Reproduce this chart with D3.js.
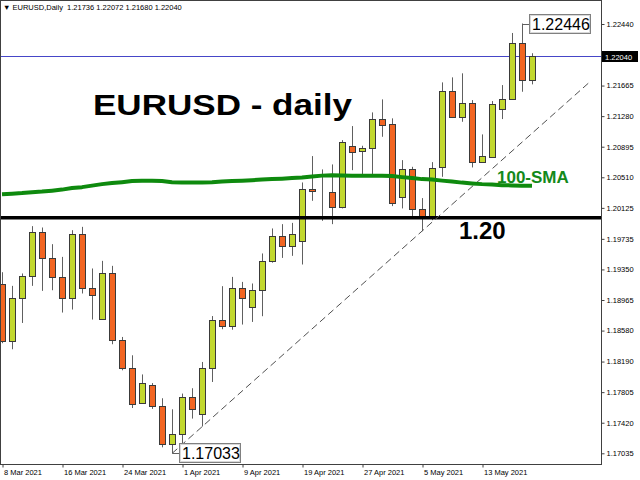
<!DOCTYPE html>
<html><head><meta charset="utf-8">
<script src="https://cdn.jsdelivr.net/npm/d3@7"></script>
<style>
html,body{margin:0;padding:0;background:#fff;}
svg{display:block;}
text{font-family:"Liberation Sans",Arial,sans-serif;}
</style></head>
<body>
<svg id="chart" width="640" height="480"></svg>
<script>
// ---- DATA ----
const dates = ["8 Mar 2021","9 Mar 2021","10 Mar 2021","11 Mar 2021","12 Mar 2021","15 Mar 2021","16 Mar 2021","17 Mar 2021","18 Mar 2021","19 Mar 2021",
"22 Mar 2021","23 Mar 2021","24 Mar 2021","25 Mar 2021","26 Mar 2021","29 Mar 2021","30 Mar 2021","31 Mar 2021","1 Apr 2021","2 Apr 2021",
"5 Apr 2021","6 Apr 2021","7 Apr 2021","8 Apr 2021","9 Apr 2021","12 Apr 2021","13 Apr 2021","14 Apr 2021","15 Apr 2021","16 Apr 2021",
"19 Apr 2021","20 Apr 2021","21 Apr 2021","22 Apr 2021","23 Apr 2021","26 Apr 2021","27 Apr 2021","28 Apr 2021","29 Apr 2021","30 Apr 2021",
"3 May 2021","4 May 2021","5 May 2021","6 May 2021","7 May 2021","10 May 2021","11 May 2021","12 May 2021","13 May 2021","14 May 2021",
"17 May 2021","18 May 2021","19 May 2021","20 May 2021"];
const open = [1.19164,1.18450,1.18984,1.19269,1.19815,1.19495,1.19256,1.18991,1.19790,1.19117,
1.18727,1.19311,1.18467,1.18109,1.17668,1.17889,1.17629,1.17157,1.17283,1.17744,
1.17535,1.18109,1.18719,1.18639,1.19110,1.18878,1.19088,1.19454,1.19769,1.19647,
1.19706,1.20361,1.20327,1.20327,1.20130,1.20907,1.20844,1.20874,1.21243,1.21176,
1.20264,1.20613,1.20109,1.20025,1.20642,1.21600,1.21264,1.21448,1.20705,1.20768,
1.21365,1.21491,1.22207,1.21736];
const high = [1.19315,1.19143,1.19299,1.19895,1.19878,1.19668,1.19508,1.19844,1.19886,1.19362,
1.19458,1.19395,1.18500,1.18269,1.18028,1.17919,1.17728,1.17589,1.17787,1.17854,
1.18185,1.18763,1.19139,1.19256,1.19193,1.19173,1.19551,1.19866,1.19920,1.19936,
1.20445,1.20777,1.20609,1.20672,1.20978,1.21155,1.20907,1.21327,1.21491,1.21252,
1.20726,1.20642,1.20248,1.20701,1.21705,1.21768,1.21819,1.21482,1.21050,1.21470,
1.21671,1.22327,1.22446,1.22072];
const low = [1.18421,1.18345,1.18676,1.19143,1.19080,1.19088,1.18807,1.18845,1.19047,1.18719,
1.18715,1.18408,1.18080,1.17605,1.17665,1.17594,1.17110,1.17033,1.17157,1.17472,
1.17372,1.17933,1.18597,1.18591,1.18656,1.18689,1.18761,1.19435,1.19495,1.19521,
1.19412,1.20214,1.19962,1.19920,1.20118,1.20600,1.20550,1.20537,1.21020,1.20147,
1.20118,1.20012,1.19832,1.19970,1.20516,1.21256,1.21209,1.20634,1.20697,1.20760,
1.21243,1.21485,1.21587,1.21680];
const close = [1.18446,1.18984,1.19269,1.19823,1.19500,1.19256,1.18991,1.19790,1.19117,1.19034,
1.19311,1.18467,1.18109,1.17661,1.17923,1.17629,1.17157,1.17283,1.17747,1.17589,
1.18109,1.18719,1.18639,1.19110,1.18991,1.19088,1.19454,1.19773,1.19643,1.19790,
1.20357,1.20336,1.20327,1.20130,1.20949,1.20831,1.20874,1.21239,1.21167,1.20185,
1.20613,1.20107,1.20025,1.20632,1.21600,1.21264,1.21448,1.20697,1.20781,1.21428,
1.21495,1.22207,1.21734,1.22040];
const sma100 = [1.20298,1.20304,1.20311,1.20323,1.20330,1.20342,1.20355,1.20374,1.20386,1.20405,
1.20424,1.20437,1.20449,1.20462,1.20468,1.20468,1.20462,1.20449,1.20443,1.20443,
1.20445,1.20449,1.20456,1.20462,1.20468,1.20474,1.20481,1.20487,1.20493,1.20500,
1.20506,1.20519,1.20531,1.20537,1.20534,1.20529,1.20529,1.20529,1.20529,1.20525,
1.20512,1.20500,1.20487,1.20481,1.20468,1.20456,1.20443,1.20433,1.20424,1.20418,
1.20411,1.20408,1.20405,1.20403];
const priceTicks = [1.22440,1.21665,1.21280,1.20895,1.20510,1.20125,1.19735,1.19350,1.18965,1.18580,1.18190,1.17805,1.17420,1.17035];
const dateTickIndex = [0,6,12,18,24,30,36,42,48];
const dateTickLabels = ["8 Mar 2021","16 Mar 2021","24 Mar 2021","1 Apr 2021","9 Apr 2021","19 Apr 2021","27 Apr 2021","5 May 2021","13 May 2021"];
const headerText = "\u25BC EURUSD,Daily  1.21736 1.22072 1.21680 1.22040";
const bidPrice = 1.22040;
const supportLevel = 1.20;
const trendIdx = [17, 42];
const trendPrice = [1.17033, 1.19832];
const trendEndIdx = 58.8;
const highMark = {i: 52, price: 1.22446, label: "1.22446"};
const lowMark = {i: 17, price: 1.17033, label: "1.17033"};

// ---- LAYOUT ----
const svg = d3.select("#chart");
const plotL = 1, plotR = 601, plotT = 1, plotB = 464;
const x = d3.scaleLinear().domain([0, 60]).range([2, 602]);
const y = d3.scaleLinear().domain([1.17035, 1.22440]).range([453.3, 24]);
const bull = "#c2d82e", bear = "#f26522", outline = "#3a3a3a", wickC = "#606060";

svg.append("defs").append("clipPath").attr("id","plotclip")
  .append("rect").attr("x",plotL).attr("y",plotT).attr("width",plotR-plotL).attr("height",plotB-plotT);

const plot = svg.append("g").attr("clip-path","url(#plotclip)");

// bid line (behind candles)
plot.append("line").attr("x1",plotL).attr("x2",plotR)
  .attr("y1",Math.round(y(bidPrice))+0.5).attr("y2",Math.round(y(bidPrice))+0.5)
  .attr("stroke","#4646c8").attr("stroke-width",1);

const candles = dates.map((d,i)=>({i, o:open[i], h:high[i], l:low[i], c:close[i]}));
const cg = plot.append("g");
cg.selectAll("line.wick").data(candles).join("line")
  .attr("class","wick")
  .attr("x1",d=>Math.round(x(d.i))+0.5).attr("x2",d=>Math.round(x(d.i))+0.5)
  .attr("y1",d=>y(d.h)).attr("y2",d=>y(d.l))
  .attr("stroke",wickC).attr("stroke-width",1);
cg.selectAll("rect.body").data(candles).join("rect")
  .attr("class","body")
  .attr("x",d=>Math.round(x(d.i))-3+0.5)
  .attr("width",6)
  .attr("y",d=>Math.round(y(Math.max(d.o,d.c)))+0.5)
  .attr("height",d=>Math.max(0, Math.round(y(Math.min(d.o,d.c))) - Math.round(y(Math.max(d.o,d.c)))))
  .attr("fill",d=>d.c>=d.o?bull:bear)
  .attr("stroke",outline).attr("stroke-width",1);

// support line 1.20
plot.append("line").attr("x1",plotL).attr("x2",plotR)
  .attr("y1",y(supportLevel)).attr("y2",y(supportLevel))
  .attr("stroke","#000").attr("stroke-width",3.5);

// trend line
const slope = (trendPrice[1]-trendPrice[0])/(trendIdx[1]-trendIdx[0]);
plot.append("line")
  .attr("x1",x(trendIdx[0])).attr("y1",y(trendPrice[0]))
  .attr("x2",x(trendEndIdx)).attr("y2",y(trendPrice[0]+slope*(trendEndIdx-trendIdx[0])))
  .attr("stroke","#505050").attr("stroke-width",1).attr("stroke-dasharray","7,4");

// SMA
plot.append("path").datum(sma100)
  .attr("d", d3.line().x((d,i)=>x(i)).y(d=>y(d)))
  .attr("fill","none").attr("stroke","#0e8a0e").attr("stroke-width",4).attr("stroke-linejoin","round");

// title & annotations
svg.append("text").attr("x",93).attr("y",115).attr("font-size",30).attr("font-weight","bold")
  .attr("textLength",259).attr("lengthAdjust","spacingAndGlyphs")
  .text("EURUSD - daily");
svg.append("text").attr("x",497).attr("y",183).attr("font-size",17).attr("font-weight","bold")
  .attr("fill","#13891a").text("100-SMA");
svg.append("text").attr("x",459).attr("y",y(supportLevel)+21).attr("font-size",24).attr("font-weight","bold")
  .attr("fill","#000").text("1.20");

// high/low labels
function priceLabel(m, boxX){
  const cy = y(m.price);
  const cx = Math.round(x(m.i))+0.5;
  const g = svg.append("g");
  g.append("line").attr("x1",cx).attr("x2",boxX).attr("y1",Math.round(cy)+0.5).attr("y2",Math.round(cy)+0.5)
    .attr("stroke","#606060").attr("stroke-width",1);
  g.append("rect").attr("x",boxX+0.5).attr("y",Math.round(cy)-9.5).attr("width",61).attr("height",19)
    .attr("fill","#fff").attr("stroke","#808080").attr("stroke-width",1);
  g.append("rect").attr("x",boxX+1.5).attr("y",Math.round(cy)-8.5).attr("width",59).attr("height",17)
    .attr("fill","none").attr("stroke","#d8d8d8").attr("stroke-width",1);
  g.append("text").attr("x",boxX+3).attr("y",Math.round(cy)+6).attr("font-size",16).attr("fill","#000").text(m.label);
}
priceLabel(highMark, Math.round(x(highMark.i))+7);
priceLabel(lowMark, Math.round(x(lowMark.i))+7);

// frame
svg.append("rect").attr("x",0.5).attr("y",0.5).attr("width",plotR).attr("height",plotB)
  .attr("fill","none").attr("stroke","#404040").attr("stroke-width",1);

// header
svg.append("text").attr("x",3).attr("y",10).attr("font-size",7.5).attr("fill","#000").attr("xml:space","preserve").text(headerText);

// right axis
const yAxis = d3.axisRight(y).tickValues(priceTicks).tickFormat(d3.format(".5f")).tickSize(3).tickPadding(2);
const ag = svg.append("g").attr("transform",`translate(${plotR+0.5},0)`).call(yAxis);
ag.select(".domain").remove();
ag.selectAll("text").attr("font-size",7.5).attr("font-family","Liberation Sans, Arial, sans-serif").attr("fill","#000");
ag.selectAll("line").attr("stroke","#404040");

// bid label
const by = Math.round(y(bidPrice));
svg.append("rect").attr("x",602).attr("y",by-5).attr("width",36).attr("height",11).attr("fill","#000");
svg.append("text").attr("x",605).attr("y",by+3.5).attr("font-size",7.5).attr("fill","#fff").text(d3.format(".5f")(bidPrice));

// bottom axis
const xAxis = d3.axisBottom(x).tickValues(dateTickIndex).tickFormat((d,k)=>dateTickLabels[k]).tickSize(3).tickPadding(2);
const bg = svg.append("g").attr("transform",`translate(0.5,${plotB+0.5})`).call(xAxis);
bg.select(".domain").remove();
bg.selectAll("text").attr("font-size",7.5).attr("font-family","Liberation Sans, Arial, sans-serif")
  .attr("fill","#000").attr("text-anchor","start").attr("dx",1);
bg.selectAll("line").attr("stroke","#404040");
</script>
</body></html>
